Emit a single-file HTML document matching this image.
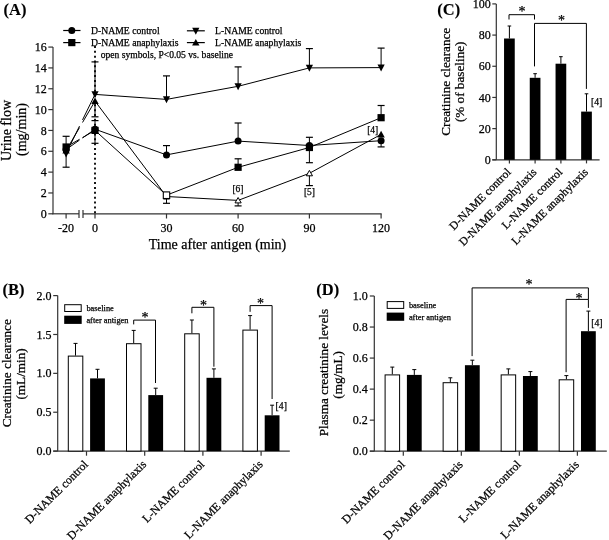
<!DOCTYPE html>
<html><head><meta charset="utf-8"><style>
html,body{margin:0;padding:0;background:#fff;}
svg{display:block;will-change:transform;}
text{font-family:"Liberation Serif", serif;stroke:#000;stroke-width:0.25px;}
</style></head><body>
<svg width="609" height="540" viewBox="0 0 609 540">
<rect width="609" height="540" fill="#fff"/>
<text x="3.50" y="14.50" font-size="16.5" text-anchor="start" font-weight="bold" fill="#000" style="stroke-width:0.1px">(A)</text>
<line x1="53.00" y1="47.08" x2="53.00" y2="214.30" stroke="#333" stroke-width="1.2" />
<line x1="48.30" y1="213.80" x2="53.00" y2="213.80" stroke="#333" stroke-width="1.2" />
<text x="46.80" y="217.90" font-size="12" text-anchor="end" font-weight="normal" fill="#000" >0</text>
<line x1="48.30" y1="192.96" x2="53.00" y2="192.96" stroke="#333" stroke-width="1.2" />
<text x="46.80" y="197.06" font-size="12" text-anchor="end" font-weight="normal" fill="#000" >2</text>
<line x1="48.30" y1="172.12" x2="53.00" y2="172.12" stroke="#333" stroke-width="1.2" />
<text x="46.80" y="176.22" font-size="12" text-anchor="end" font-weight="normal" fill="#000" >4</text>
<line x1="48.30" y1="151.28" x2="53.00" y2="151.28" stroke="#333" stroke-width="1.2" />
<text x="46.80" y="155.38" font-size="12" text-anchor="end" font-weight="normal" fill="#000" >6</text>
<line x1="48.30" y1="130.44" x2="53.00" y2="130.44" stroke="#333" stroke-width="1.2" />
<text x="46.80" y="134.54" font-size="12" text-anchor="end" font-weight="normal" fill="#000" >8</text>
<line x1="48.30" y1="109.60" x2="53.00" y2="109.60" stroke="#333" stroke-width="1.2" />
<text x="46.80" y="113.70" font-size="12" text-anchor="end" font-weight="normal" fill="#000" >10</text>
<line x1="48.30" y1="88.76" x2="53.00" y2="88.76" stroke="#333" stroke-width="1.2" />
<text x="46.80" y="92.86" font-size="12" text-anchor="end" font-weight="normal" fill="#000" >12</text>
<line x1="48.30" y1="67.92" x2="53.00" y2="67.92" stroke="#333" stroke-width="1.2" />
<text x="46.80" y="72.02" font-size="12" text-anchor="end" font-weight="normal" fill="#000" >14</text>
<line x1="48.30" y1="47.08" x2="53.00" y2="47.08" stroke="#333" stroke-width="1.2" />
<text x="46.80" y="51.18" font-size="12" text-anchor="end" font-weight="normal" fill="#000" >16</text>
<line x1="52.50" y1="213.80" x2="79.00" y2="213.80" stroke="#333" stroke-width="1.2" />
<line x1="83.00" y1="213.80" x2="381.60" y2="213.80" stroke="#333" stroke-width="1.2" />
<line x1="79.00" y1="209.90" x2="79.00" y2="218.00" stroke="#333" stroke-width="1.2" />
<line x1="83.00" y1="209.90" x2="83.00" y2="218.00" stroke="#333" stroke-width="1.2" />
<line x1="66.10" y1="213.80" x2="66.10" y2="218.50" stroke="#333" stroke-width="1.2" />
<text x="66.10" y="232.20" font-size="12" text-anchor="middle" font-weight="normal" fill="#000" >-20</text>
<line x1="95.00" y1="213.80" x2="95.00" y2="218.50" stroke="#333" stroke-width="1.2" />
<text x="95.00" y="232.20" font-size="12" text-anchor="middle" font-weight="normal" fill="#000" >0</text>
<line x1="166.50" y1="213.80" x2="166.50" y2="218.50" stroke="#333" stroke-width="1.2" />
<text x="166.50" y="232.20" font-size="12" text-anchor="middle" font-weight="normal" fill="#000" >30</text>
<line x1="238.10" y1="213.80" x2="238.10" y2="218.50" stroke="#333" stroke-width="1.2" />
<text x="238.10" y="232.20" font-size="12" text-anchor="middle" font-weight="normal" fill="#000" >60</text>
<line x1="309.40" y1="213.80" x2="309.40" y2="218.50" stroke="#333" stroke-width="1.2" />
<text x="309.40" y="232.20" font-size="12" text-anchor="middle" font-weight="normal" fill="#000" >90</text>
<line x1="381.10" y1="213.80" x2="381.10" y2="218.50" stroke="#333" stroke-width="1.2" />
<text x="381.10" y="232.20" font-size="12" text-anchor="middle" font-weight="normal" fill="#000" >120</text>
<text x="217.50" y="248.80" font-size="14" text-anchor="middle" font-weight="normal" fill="#000" >Time after antigen (min)</text>
<text x="11.20" y="130.50" font-size="14" text-anchor="middle" font-weight="normal" fill="#000" transform="rotate(-90 11.20 130.50)" >Urine flow</text>
<text x="26.20" y="129.50" font-size="14" text-anchor="middle" font-weight="normal" fill="#000" transform="rotate(-90 26.20 129.50)" >(mg/min)</text>
<line x1="95.00" y1="45.90" x2="95.00" y2="213.80" stroke="#000" stroke-width="1.8" stroke-dasharray="2,2.865"/>
<line x1="66.10" y1="149.00" x2="66.10" y2="136.30" stroke="#000" stroke-width="1.0" />
<line x1="62.60" y1="136.30" x2="69.60" y2="136.30" stroke="#000" stroke-width="1.2" />
<line x1="66.10" y1="150.00" x2="66.10" y2="167.20" stroke="#000" stroke-width="1.0" />
<line x1="62.60" y1="167.20" x2="69.60" y2="167.20" stroke="#000" stroke-width="1.2" />
<line x1="95.00" y1="94.40" x2="95.00" y2="61.90" stroke="#000" stroke-width="1.0" />
<line x1="91.50" y1="61.90" x2="98.50" y2="61.90" stroke="#000" stroke-width="1.2" />
<line x1="95.00" y1="101.10" x2="95.00" y2="116.80" stroke="#000" stroke-width="1.0" />
<line x1="91.50" y1="116.80" x2="98.50" y2="116.80" stroke="#000" stroke-width="1.2" />
<line x1="95.00" y1="130.00" x2="95.00" y2="120.60" stroke="#000" stroke-width="1.0" />
<line x1="91.50" y1="120.60" x2="98.50" y2="120.60" stroke="#000" stroke-width="1.2" />
<line x1="95.00" y1="130.00" x2="95.00" y2="143.30" stroke="#000" stroke-width="1.0" />
<line x1="91.50" y1="143.30" x2="98.50" y2="143.30" stroke="#000" stroke-width="1.2" />
<line x1="166.50" y1="99.40" x2="166.50" y2="75.90" stroke="#000" stroke-width="1.0" />
<line x1="163.00" y1="75.90" x2="170.00" y2="75.90" stroke="#000" stroke-width="1.2" />
<line x1="166.50" y1="154.90" x2="166.50" y2="145.60" stroke="#000" stroke-width="1.0" />
<line x1="163.00" y1="145.60" x2="170.00" y2="145.60" stroke="#000" stroke-width="1.2" />
<line x1="166.50" y1="195.20" x2="166.50" y2="203.30" stroke="#000" stroke-width="1.0" />
<line x1="163.00" y1="203.30" x2="170.00" y2="203.30" stroke="#000" stroke-width="1.2" />
<line x1="238.10" y1="86.30" x2="238.10" y2="66.90" stroke="#000" stroke-width="1.0" />
<line x1="234.60" y1="66.90" x2="241.60" y2="66.90" stroke="#000" stroke-width="1.2" />
<line x1="238.10" y1="141.10" x2="238.10" y2="123.00" stroke="#000" stroke-width="1.0" />
<line x1="234.60" y1="123.00" x2="241.60" y2="123.00" stroke="#000" stroke-width="1.2" />
<line x1="238.10" y1="167.30" x2="238.10" y2="158.80" stroke="#000" stroke-width="1.0" />
<line x1="234.60" y1="158.80" x2="241.60" y2="158.80" stroke="#000" stroke-width="1.2" />
<line x1="238.10" y1="200.40" x2="238.10" y2="205.90" stroke="#000" stroke-width="1.0" />
<line x1="234.60" y1="205.90" x2="241.60" y2="205.90" stroke="#000" stroke-width="1.2" />
<line x1="309.40" y1="67.90" x2="309.40" y2="48.60" stroke="#000" stroke-width="1.0" />
<line x1="305.90" y1="48.60" x2="312.90" y2="48.60" stroke="#000" stroke-width="1.2" />
<line x1="309.40" y1="146.00" x2="309.40" y2="137.30" stroke="#000" stroke-width="1.0" />
<line x1="305.90" y1="137.30" x2="312.90" y2="137.30" stroke="#000" stroke-width="1.2" />
<line x1="309.40" y1="147.00" x2="309.40" y2="162.70" stroke="#000" stroke-width="1.0" />
<line x1="305.90" y1="162.70" x2="312.90" y2="162.70" stroke="#000" stroke-width="1.2" />
<line x1="309.40" y1="173.30" x2="309.40" y2="185.60" stroke="#000" stroke-width="1.0" />
<line x1="305.90" y1="185.60" x2="312.90" y2="185.60" stroke="#000" stroke-width="1.2" />
<line x1="381.10" y1="67.60" x2="381.10" y2="48.10" stroke="#000" stroke-width="1.0" />
<line x1="377.60" y1="48.10" x2="384.60" y2="48.10" stroke="#000" stroke-width="1.2" />
<line x1="381.10" y1="117.70" x2="381.10" y2="105.50" stroke="#000" stroke-width="1.0" />
<line x1="377.60" y1="105.50" x2="384.60" y2="105.50" stroke="#000" stroke-width="1.2" />
<line x1="381.10" y1="140.70" x2="381.10" y2="146.90" stroke="#000" stroke-width="1.0" />
<line x1="377.60" y1="146.90" x2="384.60" y2="146.90" stroke="#000" stroke-width="1.2" />
<line x1="66.10" y1="149.50" x2="79.50" y2="140.09" stroke="#000" stroke-width="1.0" />
<line x1="82.50" y1="137.98" x2="95.00" y2="129.20" stroke="#000" stroke-width="1.0" />
<polyline points="95.00,129.20 166.50,154.90 238.10,141.10 309.40,145.50 381.10,140.70" stroke="#000" stroke-width="1.0" fill="none" />
<line x1="66.10" y1="147.00" x2="79.50" y2="139.30" stroke="#000" stroke-width="1.0" />
<line x1="82.50" y1="137.58" x2="95.00" y2="130.40" stroke="#000" stroke-width="1.0" />
<polyline points="95.00,130.40 166.50,195.20 238.10,167.30 309.40,147.50 381.10,117.70" stroke="#000" stroke-width="1.0" fill="none" />
<line x1="66.10" y1="153.50" x2="79.50" y2="126.10" stroke="#000" stroke-width="1.0" />
<line x1="82.50" y1="119.96" x2="95.00" y2="94.40" stroke="#000" stroke-width="1.0" />
<polyline points="95.00,94.40 166.50,99.40 238.10,86.30 309.40,67.90 381.10,67.60" stroke="#000" stroke-width="1.0" fill="none" />
<line x1="66.10" y1="150.50" x2="79.50" y2="127.59" stroke="#000" stroke-width="1.0" />
<line x1="82.50" y1="122.47" x2="95.00" y2="101.10" stroke="#000" stroke-width="1.0" />
<polyline points="95.00,101.10 166.50,196.50 238.10,200.40 309.40,173.30 381.10,134.40" stroke="#000" stroke-width="1.0" fill="none" />
<polygon points="62.40,153.50 69.80,153.50 66.10,146.90" fill="#000" stroke="none" stroke-width="1"/>
<polygon points="62.50,150.40 69.70,150.40 66.10,157.40" fill="#000" stroke="none" stroke-width="1"/>
<circle cx="66.10" cy="149.50" r="3.5" fill="#000" stroke="none" stroke-width="1"/>
<rect x="62.50" y="143.40" width="7.20" height="7.20" fill="#000" stroke="none" stroke-width="1"/>
<polygon points="91.30,104.10 98.70,104.10 95.00,97.50" fill="#000" stroke="none" stroke-width="1"/>
<polygon points="91.40,91.30 98.60,91.30 95.00,98.30" fill="#000" stroke="none" stroke-width="1"/>
<circle cx="95.00" cy="129.20" r="3.5" fill="#000" stroke="none" stroke-width="1"/>
<rect x="91.40" y="126.80" width="7.20" height="7.20" fill="#000" stroke="none" stroke-width="1"/>
<polygon points="163.40,199.00 169.60,199.00 166.50,193.60" fill="#fff" stroke="#000" stroke-width="1"/>
<polygon points="162.90,96.30 170.10,96.30 166.50,103.30" fill="#000" stroke="none" stroke-width="1"/>
<circle cx="166.50" cy="154.90" r="3.5" fill="#000" stroke="none" stroke-width="1"/>
<rect x="163.30" y="191.90" width="6.40" height="6.60" fill="#fff" stroke="#000" stroke-width="1.1"/>
<polygon points="235.00,202.90 241.20,202.90 238.10,197.50" fill="#fff" stroke="#000" stroke-width="1"/>
<polygon points="234.50,83.20 241.70,83.20 238.10,90.20" fill="#000" stroke="none" stroke-width="1"/>
<circle cx="238.10" cy="141.10" r="3.5" fill="#000" stroke="none" stroke-width="1"/>
<rect x="234.50" y="163.70" width="7.20" height="7.20" fill="#000" stroke="none" stroke-width="1"/>
<polygon points="306.30,175.80 312.50,175.80 309.40,170.40" fill="#fff" stroke="#000" stroke-width="1"/>
<polygon points="305.80,64.80 313.00,64.80 309.40,71.80" fill="#000" stroke="none" stroke-width="1"/>
<circle cx="309.40" cy="145.50" r="3.5" fill="#000" stroke="none" stroke-width="1"/>
<rect x="305.80" y="143.90" width="7.20" height="7.20" fill="#000" stroke="none" stroke-width="1"/>
<polygon points="377.40,137.40 384.80,137.40 381.10,130.80" fill="#000" stroke="none" stroke-width="1"/>
<polygon points="377.50,64.50 384.70,64.50 381.10,71.50" fill="#000" stroke="none" stroke-width="1"/>
<circle cx="381.10" cy="140.70" r="3.5" fill="#000" stroke="none" stroke-width="1"/>
<rect x="377.50" y="114.10" width="7.20" height="7.20" fill="#000" stroke="none" stroke-width="1"/>
<text x="238.00" y="191.50" font-size="9.5" text-anchor="middle" font-weight="normal" fill="#000" >[6]</text>
<text x="309.50" y="195.20" font-size="9.5" text-anchor="middle" font-weight="normal" fill="#000" >[5]</text>
<text x="372.70" y="133.30" font-size="9.5" text-anchor="middle" font-weight="normal" fill="#000" >[4]</text>
<line x1="63.20" y1="30.50" x2="80.50" y2="30.50" stroke="#000" stroke-width="1.2" />
<circle cx="71.80" cy="30.50" r="3.5" fill="#000" stroke="none" stroke-width="1"/>
<text x="91.00" y="33.90" font-size="9.7" text-anchor="start" font-weight="normal" fill="#000" >D-NAME control</text>
<line x1="63.20" y1="42.60" x2="80.50" y2="42.60" stroke="#000" stroke-width="1.2" />
<rect x="68.20" y="39.00" width="7.20" height="7.20" fill="#000" stroke="none" stroke-width="1"/>
<text x="91.00" y="46.00" font-size="9.7" text-anchor="start" font-weight="normal" fill="#000" >D-NAME anaphylaxis</text>
<line x1="186.90" y1="30.80" x2="204.80" y2="30.80" stroke="#000" stroke-width="1.2" />
<polygon points="192.20,27.70 199.40,27.70 195.80,34.70" fill="#000" stroke="none" stroke-width="1"/>
<text x="215.00" y="34.20" font-size="9.7" text-anchor="start" font-weight="normal" fill="#000" >L-NAME control</text>
<line x1="186.90" y1="42.60" x2="204.80" y2="42.60" stroke="#000" stroke-width="1.2" />
<polygon points="192.10,45.60 199.50,45.60 195.80,39.00" fill="#000" stroke="none" stroke-width="1"/>
<text x="215.00" y="46.00" font-size="9.7" text-anchor="start" font-weight="normal" fill="#000" >L-NAME anaphylaxis</text>
<text x="100.70" y="58.00" font-size="9.58" text-anchor="start" font-weight="normal" fill="#000" >open symbols, P&lt;0.05 vs. baseline</text>
<text x="437.30" y="15.00" font-size="16.5" text-anchor="start" font-weight="bold" fill="#000" style="stroke-width:0.1px">(C)</text>
<line x1="496.30" y1="3.90" x2="496.30" y2="159.80" stroke="#333" stroke-width="1.2" />
<line x1="492.30" y1="159.80" x2="496.30" y2="159.80" stroke="#333" stroke-width="1.2" />
<text x="490.80" y="163.90" font-size="12" text-anchor="end" font-weight="normal" fill="#000" >0</text>
<line x1="492.30" y1="128.62" x2="496.30" y2="128.62" stroke="#333" stroke-width="1.2" />
<text x="490.80" y="132.72" font-size="12" text-anchor="end" font-weight="normal" fill="#000" >20</text>
<line x1="492.30" y1="97.44" x2="496.30" y2="97.44" stroke="#333" stroke-width="1.2" />
<text x="490.80" y="101.54" font-size="12" text-anchor="end" font-weight="normal" fill="#000" >40</text>
<line x1="492.30" y1="66.26" x2="496.30" y2="66.26" stroke="#333" stroke-width="1.2" />
<text x="490.80" y="70.36" font-size="12" text-anchor="end" font-weight="normal" fill="#000" >60</text>
<line x1="492.30" y1="35.08" x2="496.30" y2="35.08" stroke="#333" stroke-width="1.2" />
<text x="490.80" y="39.18" font-size="12" text-anchor="end" font-weight="normal" fill="#000" >80</text>
<line x1="492.30" y1="3.90" x2="496.30" y2="3.90" stroke="#333" stroke-width="1.2" />
<text x="490.80" y="8.00" font-size="12" text-anchor="end" font-weight="normal" fill="#000" >100</text>
<line x1="492.30" y1="159.80" x2="599.60" y2="159.80" stroke="#333" stroke-width="1.2" />
<line x1="509.40" y1="159.80" x2="509.40" y2="163.40" stroke="#333" stroke-width="1.2" />
<line x1="509.40" y1="26.00" x2="509.40" y2="38.50" stroke="#000" stroke-width="1.0" />
<line x1="507.60" y1="26.00" x2="511.20" y2="26.00" stroke="#000" stroke-width="1.0" />
<rect x="504.05" y="38.50" width="10.70" height="121.30" fill="#000" stroke="none" stroke-width="1"/>
<line x1="535.10" y1="159.80" x2="535.10" y2="163.40" stroke="#333" stroke-width="1.2" />
<line x1="535.10" y1="73.70" x2="535.10" y2="77.80" stroke="#000" stroke-width="1.0" />
<line x1="533.30" y1="73.70" x2="536.90" y2="73.70" stroke="#000" stroke-width="1.0" />
<rect x="529.75" y="77.80" width="10.70" height="82.00" fill="#000" stroke="none" stroke-width="1"/>
<line x1="560.90" y1="159.80" x2="560.90" y2="163.40" stroke="#333" stroke-width="1.2" />
<line x1="560.90" y1="56.70" x2="560.90" y2="63.70" stroke="#000" stroke-width="1.0" />
<line x1="559.10" y1="56.70" x2="562.70" y2="56.70" stroke="#000" stroke-width="1.0" />
<rect x="555.55" y="63.70" width="10.70" height="96.10" fill="#000" stroke="none" stroke-width="1"/>
<line x1="586.50" y1="159.80" x2="586.50" y2="163.40" stroke="#333" stroke-width="1.2" />
<line x1="586.50" y1="93.80" x2="586.50" y2="111.60" stroke="#000" stroke-width="1.0" />
<line x1="584.70" y1="93.80" x2="588.30" y2="93.80" stroke="#000" stroke-width="1.0" />
<rect x="581.15" y="111.60" width="10.70" height="48.20" fill="#000" stroke="none" stroke-width="1"/>
<polyline points="509.00,19.50 509.00,14.70 534.50,14.70 534.50,19.50" stroke="#000" stroke-width="1.0" fill="none" />
<polyline points="534.50,66.40 534.50,23.40 586.40,23.40 586.40,88.90" stroke="#000" stroke-width="1.0" fill="none" />
<text x="522.00" y="16.20" font-size="14" text-anchor="middle" font-weight="normal" fill="#000" >*</text>
<text x="561.40" y="24.70" font-size="14" text-anchor="middle" font-weight="normal" fill="#000" >*</text>
<text x="591.00" y="105.20" font-size="9.7" text-anchor="start" font-weight="normal" fill="#000" >[4]</text>
<text x="450.50" y="81.80" font-size="13.2" text-anchor="middle" font-weight="normal" fill="#000" transform="rotate(-90 450.50 81.80)" >Creatinine clearance</text>
<text x="464.00" y="81.80" font-size="13.2" text-anchor="middle" font-weight="normal" fill="#000" transform="rotate(-90 464.00 81.80)" >(% of baseline)</text>
<text x="511.60" y="172.80" font-size="11.55" text-anchor="end" font-weight="normal" fill="#000" transform="rotate(-45 511.60 172.80)" >D-NAME control</text>
<text x="537.30" y="172.80" font-size="11.55" text-anchor="end" font-weight="normal" fill="#000" transform="rotate(-45 537.30 172.80)" >D-NAME anaphylaxis</text>
<text x="563.10" y="172.80" font-size="11.55" text-anchor="end" font-weight="normal" fill="#000" transform="rotate(-45 563.10 172.80)" >L-NAME control</text>
<text x="588.70" y="172.80" font-size="11.55" text-anchor="end" font-weight="normal" fill="#000" transform="rotate(-45 588.70 172.80)" >L-NAME anaphylaxis</text>
<text x="2.50" y="295.30" font-size="16.5" text-anchor="start" font-weight="bold" fill="#000" style="stroke-width:0.1px">(B)</text>
<line x1="57.70" y1="295.60" x2="57.70" y2="451.10" stroke="#333" stroke-width="1.2" />
<line x1="53.20" y1="451.10" x2="57.70" y2="451.10" stroke="#333" stroke-width="1.2" />
<text x="51.40" y="455.20" font-size="12" text-anchor="end" font-weight="normal" fill="#000" >0.0</text>
<line x1="53.20" y1="412.23" x2="57.70" y2="412.23" stroke="#333" stroke-width="1.2" />
<text x="51.40" y="416.33" font-size="12" text-anchor="end" font-weight="normal" fill="#000" >0.5</text>
<line x1="53.20" y1="373.35" x2="57.70" y2="373.35" stroke="#333" stroke-width="1.2" />
<text x="51.40" y="377.45" font-size="12" text-anchor="end" font-weight="normal" fill="#000" >1.0</text>
<line x1="53.20" y1="334.48" x2="57.70" y2="334.48" stroke="#333" stroke-width="1.2" />
<text x="51.40" y="338.58" font-size="12" text-anchor="end" font-weight="normal" fill="#000" >1.5</text>
<line x1="53.20" y1="295.60" x2="57.70" y2="295.60" stroke="#333" stroke-width="1.2" />
<text x="51.40" y="299.70" font-size="12" text-anchor="end" font-weight="normal" fill="#000" >2.0</text>
<line x1="53.20" y1="451.10" x2="289.80" y2="451.10" stroke="#333" stroke-width="1.2" />
<line x1="86.50" y1="451.10" x2="86.50" y2="455.70" stroke="#333" stroke-width="1.2" />
<line x1="75.50" y1="343.40" x2="75.50" y2="355.60" stroke="#000" stroke-width="1.0" />
<line x1="73.50" y1="343.40" x2="77.50" y2="343.40" stroke="#000" stroke-width="1.0" />
<line x1="97.50" y1="369.30" x2="97.50" y2="378.40" stroke="#000" stroke-width="1.0" />
<line x1="95.50" y1="369.30" x2="99.50" y2="369.30" stroke="#000" stroke-width="1.0" />
<rect x="68.30" y="356.10" width="14.50" height="95.00" fill="#fff" stroke="#000" stroke-width="1.0"/>
<rect x="90.10" y="378.40" width="14.80" height="72.70" fill="#000" stroke="none" stroke-width="1"/>
<text x="88.80" y="465.10" font-size="11.8" text-anchor="end" font-weight="normal" fill="#000" transform="rotate(-45 88.80 465.10)" >D-NAME control</text>
<line x1="144.70" y1="451.10" x2="144.70" y2="455.70" stroke="#333" stroke-width="1.2" />
<line x1="133.70" y1="330.40" x2="133.70" y2="343.20" stroke="#000" stroke-width="1.0" />
<line x1="131.70" y1="330.40" x2="135.70" y2="330.40" stroke="#000" stroke-width="1.0" />
<line x1="155.70" y1="388.20" x2="155.70" y2="395.10" stroke="#000" stroke-width="1.0" />
<line x1="153.70" y1="388.20" x2="157.70" y2="388.20" stroke="#000" stroke-width="1.0" />
<rect x="126.50" y="343.70" width="14.50" height="107.40" fill="#fff" stroke="#000" stroke-width="1.0"/>
<rect x="148.30" y="395.10" width="14.80" height="56.00" fill="#000" stroke="none" stroke-width="1"/>
<text x="147.00" y="465.10" font-size="11.8" text-anchor="end" font-weight="normal" fill="#000" transform="rotate(-45 147.00 465.10)" >D-NAME anaphylaxis</text>
<line x1="202.90" y1="451.10" x2="202.90" y2="455.70" stroke="#333" stroke-width="1.2" />
<line x1="191.90" y1="320.00" x2="191.90" y2="333.30" stroke="#000" stroke-width="1.0" />
<line x1="189.90" y1="320.00" x2="193.90" y2="320.00" stroke="#000" stroke-width="1.0" />
<line x1="213.90" y1="368.90" x2="213.90" y2="377.80" stroke="#000" stroke-width="1.0" />
<line x1="211.90" y1="368.90" x2="215.90" y2="368.90" stroke="#000" stroke-width="1.0" />
<rect x="184.70" y="333.80" width="14.50" height="117.30" fill="#fff" stroke="#000" stroke-width="1.0"/>
<rect x="206.50" y="377.80" width="14.80" height="73.30" fill="#000" stroke="none" stroke-width="1"/>
<text x="205.20" y="465.10" font-size="11.8" text-anchor="end" font-weight="normal" fill="#000" transform="rotate(-45 205.20 465.10)" >L-NAME control</text>
<line x1="261.10" y1="451.10" x2="261.10" y2="455.70" stroke="#333" stroke-width="1.2" />
<line x1="250.10" y1="315.60" x2="250.10" y2="329.60" stroke="#000" stroke-width="1.0" />
<line x1="248.10" y1="315.60" x2="252.10" y2="315.60" stroke="#000" stroke-width="1.0" />
<line x1="272.10" y1="405.20" x2="272.10" y2="415.30" stroke="#000" stroke-width="1.0" />
<line x1="270.10" y1="405.20" x2="274.10" y2="405.20" stroke="#000" stroke-width="1.0" />
<rect x="242.90" y="330.10" width="14.50" height="121.00" fill="#fff" stroke="#000" stroke-width="1.0"/>
<rect x="264.70" y="415.30" width="14.80" height="35.80" fill="#000" stroke="none" stroke-width="1"/>
<text x="263.40" y="465.10" font-size="11.8" text-anchor="end" font-weight="normal" fill="#000" transform="rotate(-45 263.40 465.10)" >L-NAME anaphylaxis</text>
<rect x="64.70" y="304.70" width="16.50" height="6.80" fill="#fff" stroke="#000" stroke-width="1.0"/>
<rect x="64.20" y="315.70" width="17.50" height="8.20" fill="#000" stroke="none" stroke-width="1"/>
<text x="86.40" y="310.60" font-size="8.4" text-anchor="start" font-weight="normal" fill="#000" >baseline</text>
<text x="86.40" y="323.00" font-size="8.4" text-anchor="start" font-weight="normal" fill="#000" >after antigen</text>
<text x="11.50" y="373.20" font-size="13.2" text-anchor="middle" font-weight="normal" fill="#000" transform="rotate(-90 11.50 373.20)" >Creatinine clearance</text>
<text x="25.00" y="373.90" font-size="13.2" text-anchor="middle" font-weight="normal" fill="#000" transform="rotate(-90 25.00 373.90)" >(mL/min)</text>
<polyline points="133.70,324.40 133.70,320.10 155.50,320.10 155.50,383.00" stroke="#000" stroke-width="1.0" fill="none" />
<polyline points="191.90,313.30 191.90,307.30 213.90,307.30 213.90,366.70" stroke="#000" stroke-width="1.0" fill="none" />
<polyline points="250.10,311.80 250.10,305.60 272.10,305.60 272.10,399.00" stroke="#000" stroke-width="1.0" fill="none" />
<text x="145.00" y="321.50" font-size="14" text-anchor="middle" font-weight="normal" fill="#000" >*</text>
<text x="203.40" y="309.50" font-size="14" text-anchor="middle" font-weight="normal" fill="#000" >*</text>
<text x="260.60" y="307.50" font-size="14" text-anchor="middle" font-weight="normal" fill="#000" >*</text>
<text x="275.60" y="409.00" font-size="9.7" text-anchor="start" font-weight="normal" fill="#000" >[4]</text>
<text x="316.30" y="295.30" font-size="16.5" text-anchor="start" font-weight="bold" fill="#000" style="stroke-width:0.1px">(D)</text>
<line x1="374.30" y1="296.00" x2="374.30" y2="451.20" stroke="#333" stroke-width="1.2" />
<line x1="369.80" y1="451.20" x2="374.30" y2="451.20" stroke="#333" stroke-width="1.2" />
<text x="367.80" y="455.30" font-size="12" text-anchor="end" font-weight="normal" fill="#000" >0.0</text>
<line x1="369.80" y1="420.16" x2="374.30" y2="420.16" stroke="#333" stroke-width="1.2" />
<text x="367.80" y="424.26" font-size="12" text-anchor="end" font-weight="normal" fill="#000" >0.2</text>
<line x1="369.80" y1="389.12" x2="374.30" y2="389.12" stroke="#333" stroke-width="1.2" />
<text x="367.80" y="393.22" font-size="12" text-anchor="end" font-weight="normal" fill="#000" >0.4</text>
<line x1="369.80" y1="358.08" x2="374.30" y2="358.08" stroke="#333" stroke-width="1.2" />
<text x="367.80" y="362.18" font-size="12" text-anchor="end" font-weight="normal" fill="#000" >0.6</text>
<line x1="369.80" y1="327.04" x2="374.30" y2="327.04" stroke="#333" stroke-width="1.2" />
<text x="367.80" y="331.14" font-size="12" text-anchor="end" font-weight="normal" fill="#000" >0.8</text>
<line x1="369.80" y1="296.00" x2="374.30" y2="296.00" stroke="#333" stroke-width="1.2" />
<text x="367.80" y="300.10" font-size="12" text-anchor="end" font-weight="normal" fill="#000" >1.0</text>
<line x1="369.80" y1="451.20" x2="606.80" y2="451.20" stroke="#333" stroke-width="1.2" />
<line x1="403.30" y1="451.20" x2="403.30" y2="455.80" stroke="#333" stroke-width="1.2" />
<line x1="392.30" y1="367.10" x2="392.30" y2="374.40" stroke="#000" stroke-width="1.0" />
<line x1="390.30" y1="367.10" x2="394.30" y2="367.10" stroke="#000" stroke-width="1.0" />
<line x1="414.30" y1="369.60" x2="414.30" y2="374.90" stroke="#000" stroke-width="1.0" />
<line x1="412.30" y1="369.60" x2="416.30" y2="369.60" stroke="#000" stroke-width="1.0" />
<rect x="385.10" y="374.90" width="14.50" height="76.30" fill="#fff" stroke="#000" stroke-width="1.0"/>
<rect x="406.90" y="374.90" width="14.80" height="76.30" fill="#000" stroke="none" stroke-width="1"/>
<text x="405.60" y="465.20" font-size="11.8" text-anchor="end" font-weight="normal" fill="#000" transform="rotate(-45 405.60 465.20)" >D-NAME control</text>
<line x1="461.33" y1="451.20" x2="461.33" y2="455.80" stroke="#333" stroke-width="1.2" />
<line x1="450.33" y1="377.80" x2="450.33" y2="382.20" stroke="#000" stroke-width="1.0" />
<line x1="448.33" y1="377.80" x2="452.33" y2="377.80" stroke="#000" stroke-width="1.0" />
<line x1="472.33" y1="360.20" x2="472.33" y2="365.20" stroke="#000" stroke-width="1.0" />
<line x1="470.33" y1="360.20" x2="474.33" y2="360.20" stroke="#000" stroke-width="1.0" />
<rect x="443.13" y="382.70" width="14.50" height="68.50" fill="#fff" stroke="#000" stroke-width="1.0"/>
<rect x="464.93" y="365.20" width="14.80" height="86.00" fill="#000" stroke="none" stroke-width="1"/>
<text x="463.63" y="465.20" font-size="11.8" text-anchor="end" font-weight="normal" fill="#000" transform="rotate(-45 463.63 465.20)" >D-NAME anaphylaxis</text>
<line x1="519.36" y1="451.20" x2="519.36" y2="455.80" stroke="#333" stroke-width="1.2" />
<line x1="508.36" y1="368.90" x2="508.36" y2="374.40" stroke="#000" stroke-width="1.0" />
<line x1="506.36" y1="368.90" x2="510.36" y2="368.90" stroke="#000" stroke-width="1.0" />
<line x1="530.36" y1="371.60" x2="530.36" y2="376.00" stroke="#000" stroke-width="1.0" />
<line x1="528.36" y1="371.60" x2="532.36" y2="371.60" stroke="#000" stroke-width="1.0" />
<rect x="501.16" y="374.90" width="14.50" height="76.30" fill="#fff" stroke="#000" stroke-width="1.0"/>
<rect x="522.96" y="376.00" width="14.80" height="75.20" fill="#000" stroke="none" stroke-width="1"/>
<text x="521.66" y="465.20" font-size="11.8" text-anchor="end" font-weight="normal" fill="#000" transform="rotate(-45 521.66 465.20)" >L-NAME control</text>
<line x1="577.39" y1="451.20" x2="577.39" y2="455.80" stroke="#333" stroke-width="1.2" />
<line x1="566.39" y1="375.60" x2="566.39" y2="379.30" stroke="#000" stroke-width="1.0" />
<line x1="564.39" y1="375.60" x2="568.39" y2="375.60" stroke="#000" stroke-width="1.0" />
<line x1="588.39" y1="311.10" x2="588.39" y2="331.20" stroke="#000" stroke-width="1.0" />
<line x1="586.39" y1="311.10" x2="590.39" y2="311.10" stroke="#000" stroke-width="1.0" />
<rect x="559.19" y="379.80" width="14.50" height="71.40" fill="#fff" stroke="#000" stroke-width="1.0"/>
<rect x="580.99" y="331.20" width="14.80" height="120.00" fill="#000" stroke="none" stroke-width="1"/>
<text x="579.69" y="465.20" font-size="11.8" text-anchor="end" font-weight="normal" fill="#000" transform="rotate(-45 579.69 465.20)" >L-NAME anaphylaxis</text>
<rect x="387.20" y="301.60" width="16.50" height="6.80" fill="#fff" stroke="#000" stroke-width="1.0"/>
<rect x="386.70" y="312.60" width="17.50" height="8.20" fill="#000" stroke="none" stroke-width="1"/>
<text x="408.90" y="307.50" font-size="8.4" text-anchor="start" font-weight="normal" fill="#000" >baseline</text>
<text x="408.90" y="319.90" font-size="8.4" text-anchor="start" font-weight="normal" fill="#000" >after antigen</text>
<text x="328.50" y="372.60" font-size="13.2" text-anchor="middle" font-weight="normal" fill="#000" transform="rotate(-90 328.50 372.60)" >Plasma creatinine levels</text>
<text x="342.50" y="374.90" font-size="13.2" text-anchor="middle" font-weight="normal" fill="#000" transform="rotate(-90 342.50 374.90)" >(mg/mL)</text>
<polyline points="472.10,356.10 472.10,287.90 588.40,287.90 588.40,299.40" stroke="#000" stroke-width="1.0" fill="none" />
<polyline points="566.10,372.20 566.10,299.40 588.40,299.40 588.40,307.90" stroke="#000" stroke-width="1.0" fill="none" />
<text x="528.90" y="289.40" font-size="14" text-anchor="middle" font-weight="normal" fill="#000" >*</text>
<text x="578.90" y="302.60" font-size="14" text-anchor="middle" font-weight="normal" fill="#000" >*</text>
<text x="591.30" y="325.80" font-size="9.7" text-anchor="start" font-weight="normal" fill="#000" >[4]</text>
</svg>
</body></html>
